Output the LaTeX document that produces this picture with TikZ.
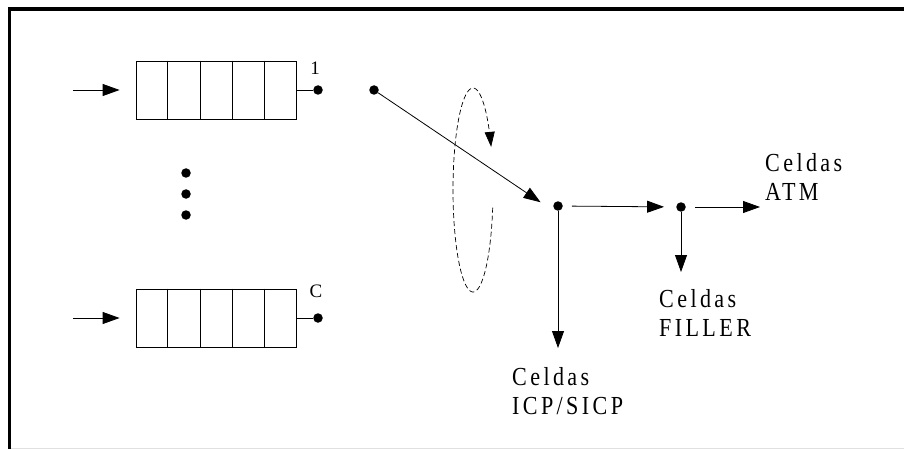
\documentclass[tikz,border=0pt]{standalone}
\usepackage{fontspec}
\setmainfont{Liberation Serif}
\newfontfamily\celdasfont[FakeStretch=0.85,LetterSpace=13]{Liberation Serif}
\usetikzlibrary{arrows.meta,calc}

\begin{document}
\begin{tikzpicture}[
  x=1pt, y=-1pt,
  queue/.style={
    rectangle, draw, line width=0.8pt,
    minimum width=160pt, minimum height=58pt,
    inner sep=0pt
  },
  dot/.style={circle, fill, inner sep=0pt, minimum size=9.5pt},
  arrow/.style={-{Triangle[length=17pt,width=12pt]}, line width=0.8pt},
  celdas/.style={
    align=left, anchor=north west, inner sep=0pt,
    font=\celdasfont\fontsize{26}{29}\selectfont
  },
  tag/.style={font=\fontsize{19}{19}\selectfont, inner sep=0pt}
]
\useasboundingbox (0,0) rectangle (904,449);
% Marco
\draw[line width=3.5pt] (9.5,449) -- (9.5,9) -- (904,9);
\draw[black!12, line width=1pt] (11,448) -- (904,448);

% Colas
\node[queue] (q1) at (216,90) {};
\node[queue] (qC) at (216,318) {};
\foreach \q in {q1,qC}
  \foreach \i in {1,...,4}
    \draw[line width=0.8pt] ($(\q.north west)!{\i/5}!(\q.north east)$)
      -- ($(\q.south west)!{\i/5}!(\q.south east)$);
\node[tag] (n1) at (315,68) {1};
\node[tag] (nC) at (316,291) {C};

% Entradas y salidas
\coordinate (in1) at (73,90);
\coordinate (inC) at (73,318);
\node[dot] (o1) at (318,90) {};
\node[dot] (oC) at (318,318) {};
\draw[arrow, shorten >=16pt] (in1) -- (q1);
\draw[arrow, shorten >=16pt] (inC) -- (qC);
\draw[line width=0.8pt] (q1) -- (o1);
\draw[line width=0.8pt] (qC) -- (oC);

% Puntos suspensivos
\foreach \y [count=\k] in {173,194,215}
  \node[dot] (v\k) at (186,\y) {};

% Conmutador
\node[dot] (sw) at (374,90) {};
\node[dot] (j1) at (558,206) {};
\node[dot] (j2) at (681,207) {};
\coordinate (d1) at (558,348);
\coordinate (d2) at (681,272);
\coordinate (atm) at (760,207);
\draw[arrow, shorten >=21pt] (sw) -- ([yshift=-8pt]j1.center);
\draw[arrow] (j1) -- (d1);
\draw[arrow, shorten <=9pt, shorten >=12pt] (j1) -- (j2);
\draw[arrow] (j2) -- (d2);
\draw[arrow, shorten <=9pt] (j2) -- (atm);

% Giro
\draw[-{Triangle[length=15pt,width=10pt]}, line width=0.7pt, dash pattern=on 5pt off 3pt]
  plot[domain=10:335, samples=80, smooth] ({473+20*cos(\x)}, {190+102*sin(\x)});

% Textos
\node[celdas] (tatm) at (765,153) {Celdas\\ATM};
\node[celdas] (tfil) at (659,289) {Celdas\\FILLER};
\node[celdas] (ticp) at (512,367) {Celdas\\ICP/SICP};
\end{tikzpicture}
\end{document}
